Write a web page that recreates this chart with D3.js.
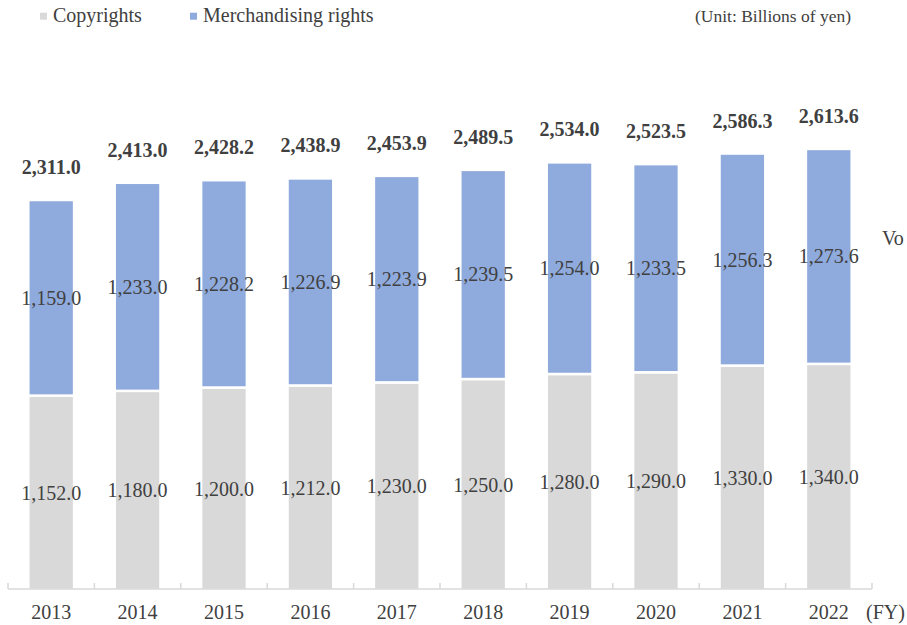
<!DOCTYPE html>
<html>
<head>
<meta charset="utf-8">
<script src="https://cdn.jsdelivr.net/npm/d3@7/dist/d3.min.js"></script>
<style>
  html, body { margin: 0; padding: 0; background: #fff; }
  svg { display: block; }
</style>
</head>
<body>
<svg id="chart" width="907" height="625"></svg>
<script>
// Fiscal years and market size by segment (billions of yen)
const years = ["2013", "2014", "2015", "2016", "2017", "2018", "2019", "2020", "2021", "2022"];
const copyrights = [1152.0, 1180.0, 1200.0, 1212.0, 1230.0, 1250.0, 1280.0, 1290.0, 1330.0, 1340.0];
const merchandising = [1159.0, 1233.0, 1228.2, 1226.9, 1223.9, 1239.5, 1254.0, 1233.5, 1256.3, 1273.6];
const totals = [2311.0, 2413.0, 2428.2, 2438.9, 2453.9, 2489.5, 2534.0, 2523.5, 2586.3, 2613.6];
const seriesNames = ["Copyrights", "Merchandising rights"];
const seriesColors = ["#d9d9d9", "#8faadc"];

const FONT = "'Liberation Serif', 'Times New Roman', serif";
const INK = "#404040";

const svg = d3.select("#chart");
const fmt = d3.format(",.1f");

const x = d3.scaleBand().domain(years).range([8, 872]).paddingInner(0.47).paddingOuter(0.235);
const y = d3.scaleLinear().domain([0, 2311]).range([590, 200]);

const rows = years.map((yr, i) => ({ year: yr, Copyrights: copyrights[i], "Merchandising rights": merchandising[i] }));
const stacked = d3.stack().keys(seriesNames)(rows);

// stacked bars
const layers = svg.append("g").selectAll("g").data(stacked).join("g")
  .attr("fill", (d, i) => seriesColors[i]);

layers.selectAll("rect").data(d => d).join("rect")
  .attr("x", d => x(d.data.year))
  .attr("width", x.bandwidth())
  .attr("y", d => y(d[1]))
  .attr("height", d => y(d[0]) - y(d[1]))
  .attr("stroke", "#fff")
  .attr("stroke-width", 2.5);

// segment value labels
layers.selectAll("text").data(d => d).join("text")
  .attr("x", d => x(d.data.year) + x.bandwidth() / 2)
  .attr("y", d => (y(d[0]) + y(d[1])) / 2 + 7)
  .attr("text-anchor", "middle")
  .attr("font-size", 20)
  .text(d => fmt(d[1] - d[0]));

// totals above bars
svg.append("g").selectAll("text").data(years).join("text")
  .attr("x", d => x(d) + x.bandwidth() / 2)
  .attr("y", (d, i) => y(totals[i]) - 26)
  .attr("text-anchor", "middle")
  .attr("font-size", 20)
  .attr("font-weight", "bold")
  .text((d, i) => fmt(totals[i]));

// category axis
const axis = svg.append("g").attr("transform", "translate(0,589)")
  .call(d3.axisBottom(x).tickSize(0).tickPadding(0));
axis.select(".domain").remove();
axis.selectAll(".tick text").attr("font-size", 20).attr("dy", null).attr("y", 30);
axis.append("line").attr("x1", 8).attr("x2", 872).attr("y1", 0).attr("y2", 0)
  .attr("stroke", "#d9d9d9").attr("stroke-width", 1.5);
const bounds = years.map(yr => x(yr) - x.step() * x.paddingInner() / 2);
bounds.push(872);
axis.selectAll("line.sep").data(bounds).join("line").attr("class", "sep")
  .attr("x1", d => d).attr("x2", d => d).attr("y1", 0).attr("y2", -6)
  .attr("stroke", "#d9d9d9").attr("stroke-width", 1.5);

svg.append("text").attr("x", 866).attr("y", 619).attr("font-size", 20).text("(FY)");

// legend
const legendX = [40, 190];
seriesNames.forEach((name, i) => {
  svg.append("rect").attr("x", legendX[i]).attr("y", 12.7).attr("width", 7).attr("height", 7)
    .attr("fill", seriesColors[i]);
  svg.append("text").attr("x", legendX[i] + 13).attr("y", 22).attr("font-size", 20).text(name);
});

svg.append("text").attr("x", 695).attr("y", 22).attr("font-size", 17.5).text("(Unit: Billions of yen)");
svg.append("text").attr("x", 882).attr("y", 245).attr("font-size", 20).text("Vo");

// shared typography
svg.selectAll("text").style("font-family", FONT).attr("fill", INK);
</script>
</body>
</html>
